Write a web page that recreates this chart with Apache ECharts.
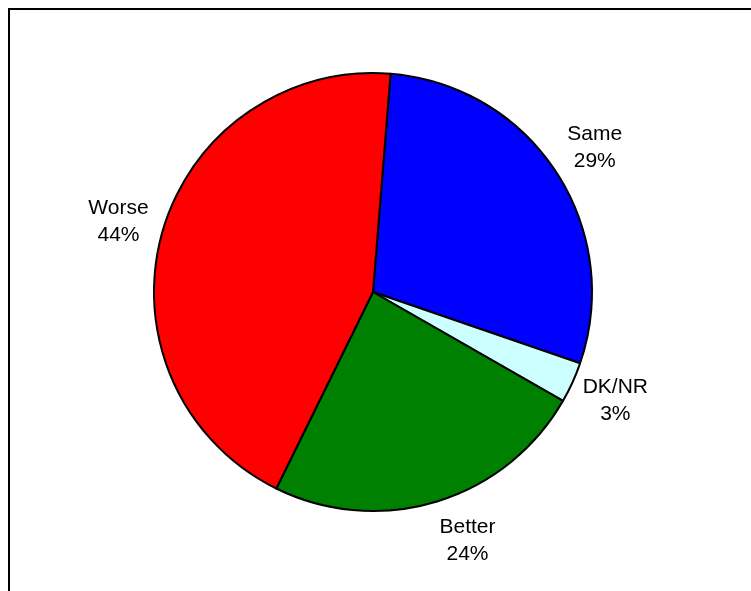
<!DOCTYPE html>
<html>
<head>
<meta charset="utf-8">
<script src="https://cdn.jsdelivr.net/npm/echarts@6/dist/echarts.min.js"></script>
<style>
  html, body { margin: 0; padding: 0; background: #fff; }
  #chart { width: 751px; height: 591px; }
</style>
</head>
<body>
<div id="chart"></div>
<script>
const categories = ['Same', 'DK/NR', 'Better', 'Worse'];
const values = [29, 3, 24, 44];
const colors = ['#0000FF', '#CCFFFF', '#008000', '#FF0000'];
const labelOffsets = [[0, 1], [1, -1], [17, -5], [1, 0]];

const chart = echarts.init(document.getElementById('chart'), null, { renderer: 'canvas' });

const pieData = categories.map((name, i) => ({
  name: name,
  value: values[i],
  itemStyle: { color: colors[i] }
}));

const labelData = categories.map((name, i) => ({
  name: name,
  value: values[i],
  label: { offset: labelOffsets[i] }
}));

chart.setOption({
  animation: false,
  backgroundColor: '#ffffff',
  graphic: [{
    type: 'rect',
    shape: { x: 9, y: 9, width: 900, height: 800 },
    style: { fill: 'none', stroke: '#000', lineWidth: 2 },
    silent: true,
    z: 0
  }],
  series: [
    {
      type: 'pie',
      center: [373, 292],
      radius: [0, 219],
      startAngle: 85.4,
      clockwise: true,
      silent: true,
      label: { show: false },
      labelLine: { show: false },
      itemStyle: { borderColor: '#000', borderWidth: 2 },
      data: pieData,
      z: 2
    },
    {
      type: 'pie',
      center: [373, 292],
      radius: [0, 524],
      startAngle: 85.4,
      clockwise: true,
      silent: true,
      itemStyle: { color: 'rgba(0,0,0,0)', borderWidth: 0 },
      label: {
        show: true,
        position: 'inside',
        formatter: '{b}\n{c}%',
        color: '#000',
        fontFamily: 'Liberation Sans, Arial, sans-serif',
        fontSize: 21,
        lineHeight: 27,
        align: 'center',
        verticalAlign: 'middle'
      },
      labelLine: { show: false },
      data: labelData,
      z: 3
    }
  ]
});
</script>
</body>
</html>
